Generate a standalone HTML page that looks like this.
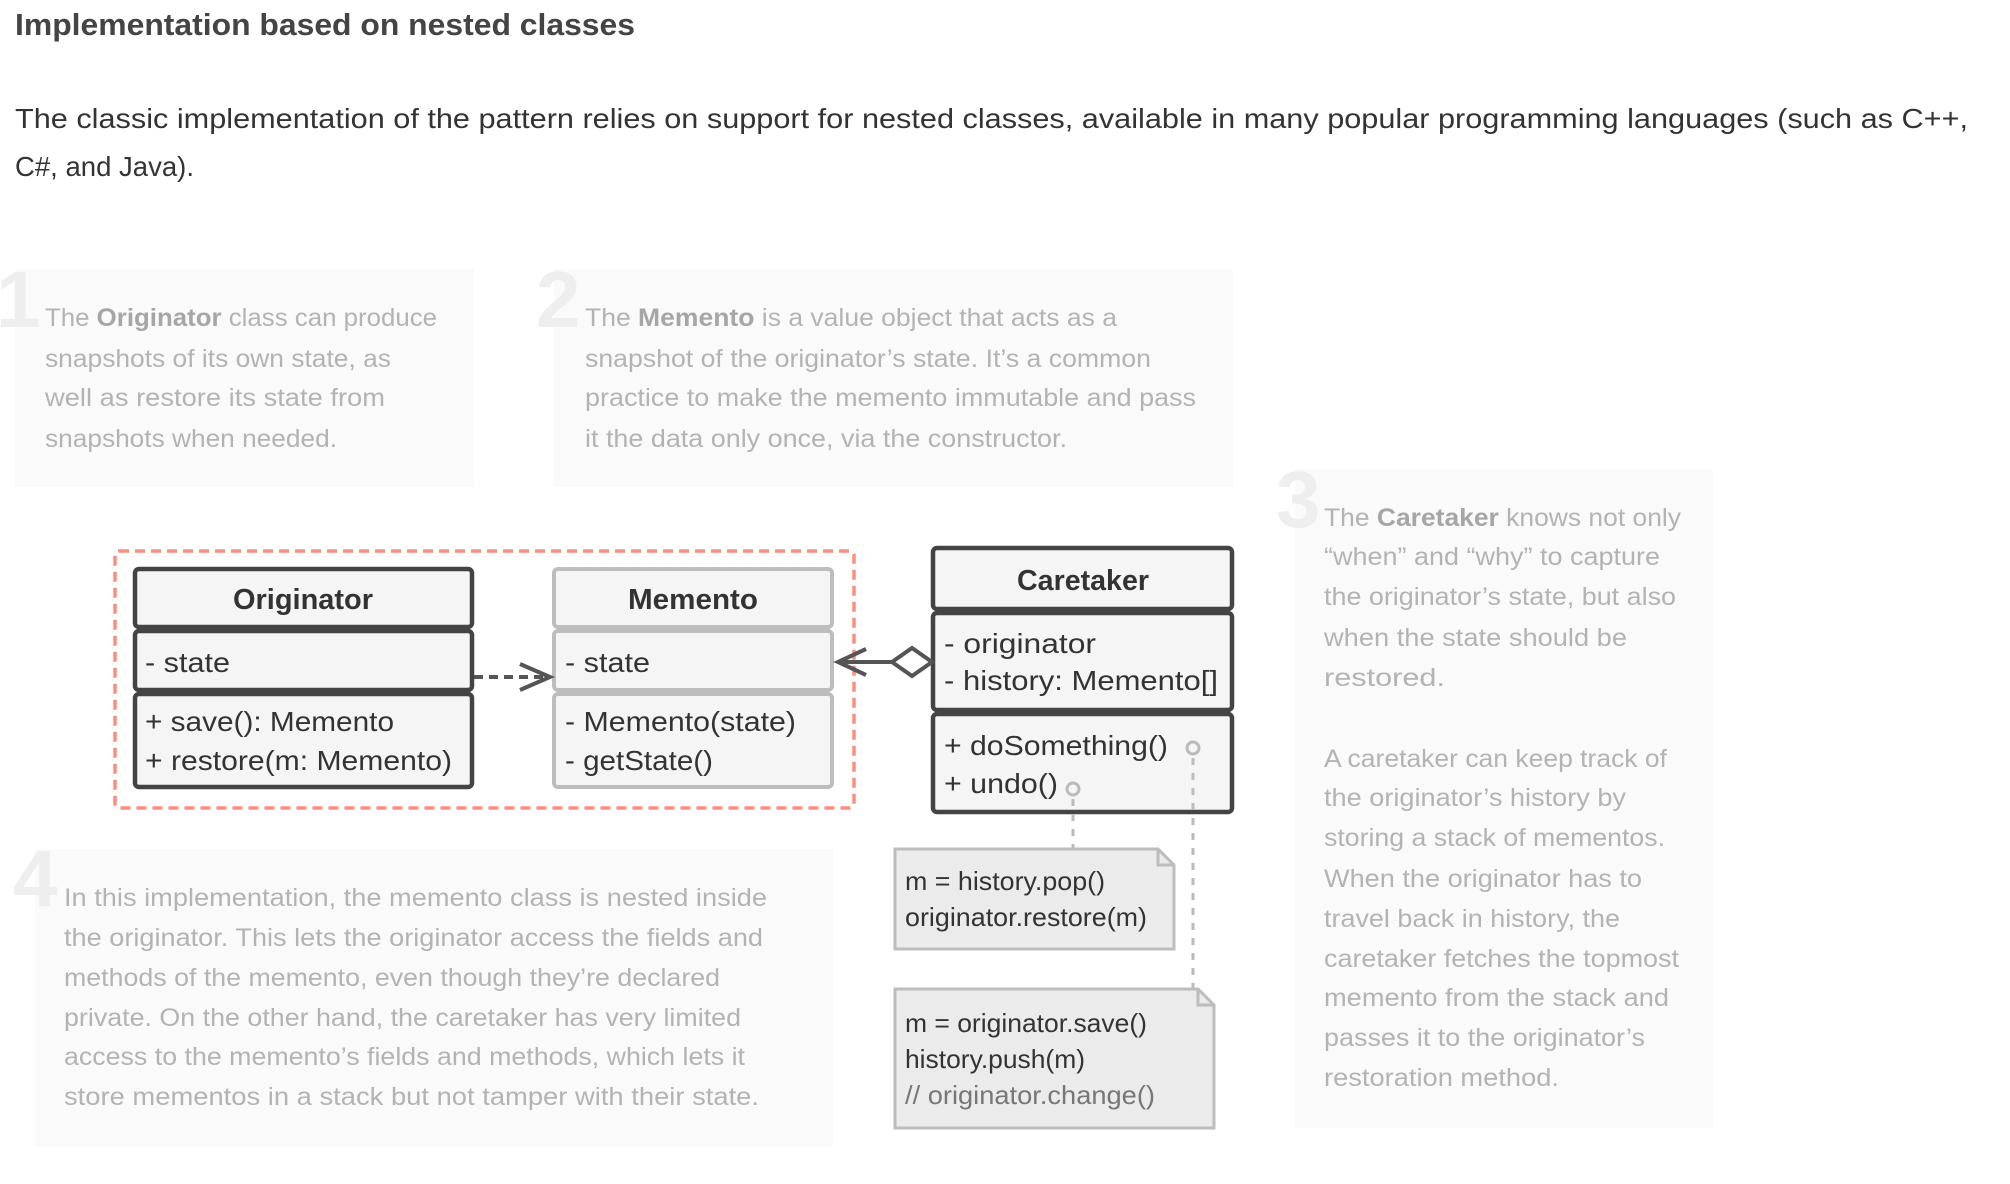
<!DOCTYPE html>
<html><head><meta charset="utf-8"><style>
html,body{margin:0;padding:0;background:#fff;}
svg{display:block;}
text{font-family:"Liberation Sans",sans-serif;}
</style></head><body>
<svg width="2010" height="1184" viewBox="0 0 2010 1184" xmlns="http://www.w3.org/2000/svg">
<text x="15" y="35" font-size="31" font-weight="bold" fill="#444" textLength="620" lengthAdjust="spacingAndGlyphs">Implementation based on nested classes</text>
<text x="15" y="128" font-size="28" fill="#333" textLength="1953" lengthAdjust="spacingAndGlyphs">The classic implementation of the pattern relies on support for nested classes, available in many popular programming languages (such as C++,</text>
<text x="15" y="176" font-size="28" fill="#333" textLength="179" lengthAdjust="spacingAndGlyphs">C#, and Java).</text>

<!-- box 1 -->
<rect x="15" y="269" width="459" height="218" fill="#fafafa"/>
<text x="-4" y="327" font-size="80" font-weight="bold" fill="#eeeeee">1</text>
<g font-size="25" fill="#b3b3b3">
<text x="45" y="326" textLength="392" lengthAdjust="spacingAndGlyphs">The <tspan font-weight="bold" fill="#a6a6a6">Originator</tspan> class can produce</text>
<text x="45" y="367" textLength="346" lengthAdjust="spacingAndGlyphs">snapshots of its own state, as</text>
<text x="45" y="406" textLength="340" lengthAdjust="spacingAndGlyphs">well as restore its state from</text>
<text x="45" y="447" textLength="292" lengthAdjust="spacingAndGlyphs">snapshots when needed.</text>
</g>
<!-- box 2 -->
<rect x="554" y="269" width="679" height="218" fill="#fafafa"/>
<text x="536" y="327" font-size="80" font-weight="bold" fill="#eeeeee">2</text>
<g font-size="25" fill="#b3b3b3">
<text x="585" y="326" textLength="532" lengthAdjust="spacingAndGlyphs">The <tspan font-weight="bold" fill="#a6a6a6">Memento</tspan> is a value object that acts as a</text>
<text x="585" y="367" textLength="566" lengthAdjust="spacingAndGlyphs">snapshot of the originator’s state. It’s a common</text>
<text x="585" y="406" textLength="611" lengthAdjust="spacingAndGlyphs">practice to make the memento immutable and pass</text>
<text x="585" y="447" textLength="482" lengthAdjust="spacingAndGlyphs">it the data only once, via the constructor.</text>
</g>
<!-- box 3 -->
<rect x="1295" y="469" width="418" height="659" fill="#fafafa"/>
<text x="1276" y="527" font-size="80" font-weight="bold" fill="#eeeeee">3</text>
<g font-size="25" fill="#b3b3b3">
<text x="1324" y="526" textLength="357" lengthAdjust="spacingAndGlyphs">The <tspan font-weight="bold" fill="#a6a6a6">Caretaker</tspan> knows not only</text>
<text x="1324" y="565" textLength="336" lengthAdjust="spacingAndGlyphs">“when” and “why” to capture</text>
<text x="1324" y="605" textLength="352" lengthAdjust="spacingAndGlyphs">the originator’s state, but also</text>
<text x="1324" y="646" textLength="303" lengthAdjust="spacingAndGlyphs">when the state should be</text>
<text x="1324" y="686" textLength="121" lengthAdjust="spacingAndGlyphs">restored.</text>
<text x="1324" y="767" textLength="343" lengthAdjust="spacingAndGlyphs">A caretaker can keep track of</text>
<text x="1324" y="806" textLength="302" lengthAdjust="spacingAndGlyphs">the originator’s history by</text>
<text x="1324" y="846" textLength="341" lengthAdjust="spacingAndGlyphs">storing a stack of mementos.</text>
<text x="1324" y="887" textLength="318" lengthAdjust="spacingAndGlyphs">When the originator has to</text>
<text x="1324" y="927" textLength="296" lengthAdjust="spacingAndGlyphs">travel back in history, the</text>
<text x="1324" y="967" textLength="355" lengthAdjust="spacingAndGlyphs">caretaker fetches the topmost</text>
<text x="1324" y="1006" textLength="345" lengthAdjust="spacingAndGlyphs">memento from the stack and</text>
<text x="1324" y="1046" textLength="321" lengthAdjust="spacingAndGlyphs">passes it to the originator’s</text>
<text x="1324" y="1086" textLength="235" lengthAdjust="spacingAndGlyphs">restoration method.</text>
</g>
<!-- box 4 -->
<rect x="35" y="849" width="798" height="298" fill="#fafafa"/>
<text x="13" y="906" font-size="80" font-weight="bold" fill="#eeeeee">4</text>
<g font-size="25" fill="#b3b3b3">
<text x="64" y="906" textLength="703" lengthAdjust="spacingAndGlyphs">In this implementation, the memento class is nested inside</text>
<text x="64" y="946" textLength="699" lengthAdjust="spacingAndGlyphs">the originator. This lets the originator access the fields and</text>
<text x="64" y="986" textLength="656" lengthAdjust="spacingAndGlyphs">methods of the memento, even though they’re declared</text>
<text x="64" y="1026" textLength="677" lengthAdjust="spacingAndGlyphs">private. On the other hand, the caretaker has very limited</text>
<text x="64" y="1065" textLength="681" lengthAdjust="spacingAndGlyphs">access to the memento’s fields and methods, which lets it</text>
<text x="64" y="1105" textLength="695" lengthAdjust="spacingAndGlyphs">store mementos in a stack but not tamper with their state.</text>
</g>

<!-- red dashed -->
<rect x="115" y="551" width="739" height="257" rx="4" fill="none" stroke="#f9907f" stroke-width="3.5" stroke-dasharray="10 6"/>

<!-- Originator -->
<g stroke="#444" stroke-width="4.5" fill="#f5f5f5">
<rect x="135" y="569" width="337" height="58" rx="4"/>
<rect x="135" y="631" width="337" height="59" rx="4"/>
<rect x="135" y="694" width="337" height="93" rx="4"/>
</g>
<text x="303" y="609" font-size="29" font-weight="bold" fill="#333" text-anchor="middle" textLength="140" lengthAdjust="spacingAndGlyphs">Originator</text>
<g font-size="28" fill="#333">
<text x="145" y="672" textLength="85" lengthAdjust="spacingAndGlyphs">- state</text>
<text x="145" y="731" textLength="249" lengthAdjust="spacingAndGlyphs">+ save(): Memento</text>
<text x="145" y="770" textLength="307" lengthAdjust="spacingAndGlyphs">+ restore(m: Memento)</text>
</g>
<!-- Memento -->
<g stroke="#bdbdbd" stroke-width="4" fill="#f5f5f5">
<rect x="554" y="569" width="278" height="58" rx="4"/>
<rect x="554" y="631" width="278" height="59" rx="4"/>
<rect x="554" y="694" width="278" height="93" rx="4"/>
</g>
<text x="693" y="609" font-size="29" font-weight="bold" fill="#333" text-anchor="middle" textLength="130" lengthAdjust="spacingAndGlyphs">Memento</text>
<g font-size="28" fill="#333">
<text x="565" y="672" textLength="85" lengthAdjust="spacingAndGlyphs">- state</text>
<text x="565" y="731" textLength="231" lengthAdjust="spacingAndGlyphs">- Memento(state)</text>
<text x="565" y="770" textLength="148" lengthAdjust="spacingAndGlyphs">- getState()</text>
</g>
<!-- Caretaker -->
<g stroke="#444" stroke-width="4.5" fill="#f5f5f5">
<rect x="933" y="548" width="299" height="61" rx="4"/>
<rect x="933" y="613" width="299" height="97" rx="4"/>
<rect x="933" y="714" width="299" height="98" rx="4"/>
</g>
<text x="1083" y="590" font-size="29" font-weight="bold" fill="#333" text-anchor="middle" textLength="132" lengthAdjust="spacingAndGlyphs">Caretaker</text>
<g font-size="28" fill="#333">
<text x="944" y="653" textLength="152" lengthAdjust="spacingAndGlyphs">- originator</text>
<text x="944" y="690" textLength="274" lengthAdjust="spacingAndGlyphs">- history: Memento[]</text>
<text x="944" y="755" textLength="224" lengthAdjust="spacingAndGlyphs">+ doSomething()</text>
<text x="944" y="793" textLength="114" lengthAdjust="spacingAndGlyphs">+ undo()</text>
</g>

<!-- dependency -->
<line x1="474" y1="677" x2="548" y2="677" stroke="#555" stroke-width="4" stroke-dasharray="9 6"/>
<polyline points="520,664 550,677 520,690" fill="none" stroke="#555" stroke-width="4"/>
<!-- aggregation -->
<line x1="838" y1="662" x2="892" y2="662" stroke="#555" stroke-width="4"/>
<polyline points="866,649 838,662 866,675" fill="none" stroke="#555" stroke-width="4"/>
<polygon points="892,662 912,648 932,662 912,676" fill="#fff" stroke="#555" stroke-width="4"/>

<!-- circles & dashed connectors -->
<circle cx="1193" cy="748" r="6" fill="none" stroke="#bbb" stroke-width="3"/>
<circle cx="1073" cy="789" r="6" fill="none" stroke="#bbb" stroke-width="3"/>
<line x1="1193" y1="758" x2="1193" y2="990" stroke="#bbb" stroke-width="3" stroke-dasharray="7 8"/>
<line x1="1073" y1="799" x2="1073" y2="848" stroke="#bbb" stroke-width="3" stroke-dasharray="7 8"/>

<!-- notes -->
<path d="M895,849 H1158 L1174,865 V949 H895 Z" fill="#ebebeb" stroke="#bdbdbd" stroke-width="3"/>
<path d="M1158,849 V865 H1174" fill="none" stroke="#bdbdbd" stroke-width="3"/>
<g font-size="26" fill="#333">
<text x="905" y="890" textLength="200" lengthAdjust="spacingAndGlyphs">m = history.pop()</text>
<text x="905" y="926" textLength="242" lengthAdjust="spacingAndGlyphs">originator.restore(m)</text>
</g>
<path d="M895,989 H1198 L1214,1005 V1128 H895 Z" fill="#ebebeb" stroke="#bdbdbd" stroke-width="3"/>
<path d="M1198,989 V1005 H1214" fill="none" stroke="#bdbdbd" stroke-width="3"/>
<g font-size="26" fill="#333">
<text x="905" y="1032" textLength="242" lengthAdjust="spacingAndGlyphs">m = originator.save()</text>
<text x="905" y="1068" textLength="180" lengthAdjust="spacingAndGlyphs">history.push(m)</text>
<text x="905" y="1104" textLength="250" lengthAdjust="spacingAndGlyphs" fill="#777">// originator.change()</text>
</g>
</svg>
</body></html>
